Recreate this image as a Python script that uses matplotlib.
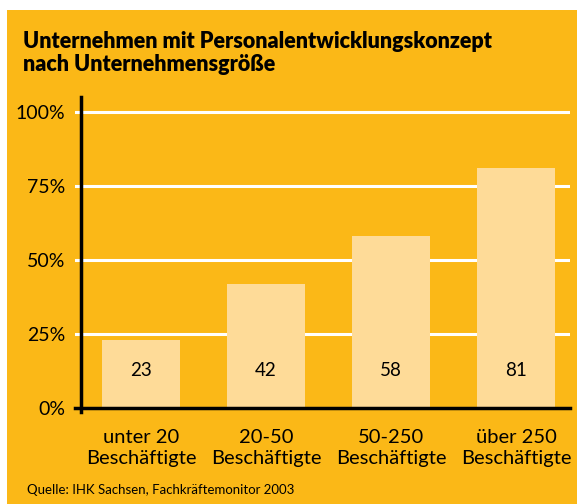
import matplotlib.pyplot as plt
from matplotlib.patches import Rectangle

# data
categories = ['unter 20\nBeschäftigte', '20-50\nBeschäftigte', '50-250\nBeschäftigte', 'über 250\nBeschäftigte']
values = [23, 42, 58, 81]
yticks = [0, 25, 50, 75, 100]
ytick_labels = ['0%', '25%', '50%', '75%', '100%']

bg = '#fbb817'
bar_color = '#fedb98'
font = 'Lato'

fig = plt.figure(figsize=(5.77, 5.04), dpi=100, facecolor='white')
fig.patches.append(Rectangle((7 / 577, 0), 1, 494 / 504, transform=fig.transFigure,
                             facecolor=bg, edgecolor='none', zorder=-10))

ax = fig.add_axes([75 / 577, 1 - 408 / 504, 495 / 577, 311 / 504])
ax.set_facecolor('none')

x = list(range(len(values)))
ax.bar(x, values, width=0.62, color=bar_color, zorder=3)
for xi, v in zip(x, values):
    ax.text(xi, 12.8, str(v), ha='center', va='center', fontsize=13.5, family=font, zorder=4)

ax.set_xlim(-0.528, 3.432)
ax.set_ylim(0, 105)
ax.set_yticks(yticks)
ax.set_yticklabels(ytick_labels, family=font, fontsize=14)
ax.yaxis.grid(True, color='white', linewidth=2.2, zorder=1)
ax.set_axisbelow(True)
ax.tick_params(axis='y', length=0, pad=7)
ax.tick_params(axis='x', length=0, pad=15)
ax.set_xticks(x)
ax.set_xticklabels(categories, family=font, fontsize=14.5, linespacing=1.3)

for s in ['top', 'right', 'left']:
    ax.spines[s].set_visible(False)
ax.spines['bottom'].set_color('black')
ax.spines['bottom'].set_linewidth(2.5)
ax.spines['bottom'].set_zorder(5)
ax.axvline(-0.48, ymin=-0.013, ymax=1, color='black', linewidth=2.5, clip_on=False, zorder=5)

fig.text(23 / 577, 1 - 31 / 504,
         'Unternehmen mit Personalentwicklungskonzept\nnach Unternehmensgröße',
         ha='left', va='top', fontsize=15.5, fontweight='heavy', family=font, linespacing=1.12)
fig.text(27 / 577, 1 - 490 / 504, 'Quelle: IHK Sachsen, Fachkräftemonitor 2003',
         ha='left', va='center', fontsize=9.5, family=font)

fig.savefig('out.png', dpi=100, facecolor=fig.get_facecolor())
